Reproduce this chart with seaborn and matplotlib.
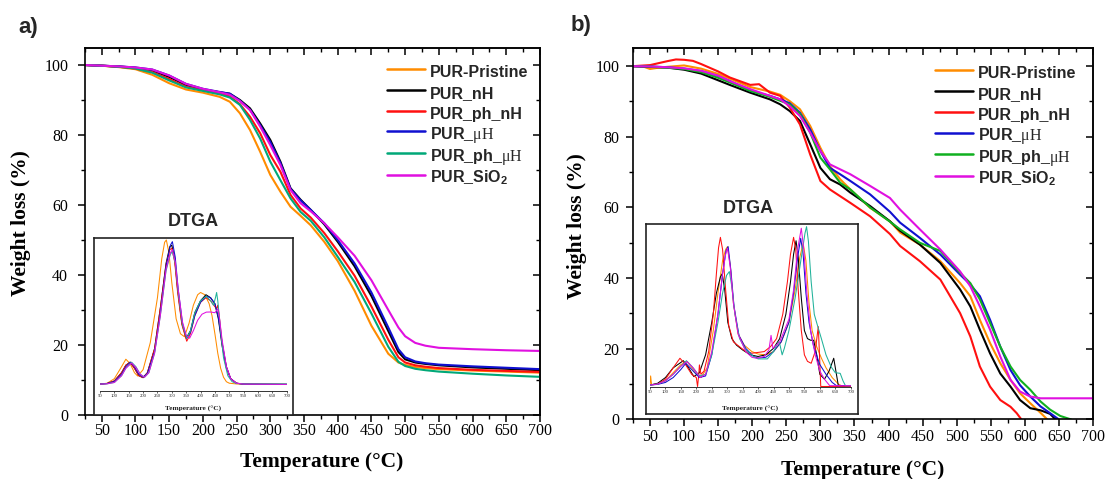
import numpy as np
import matplotlib
matplotlib.use("Agg")
import matplotlib.pyplot as plt
import seaborn as sns
from matplotlib.ticker import MultipleLocator

# ---------------- DATA ----------------
series_names = ["PUR-Pristine", "PUR_nH", "PUR_ph_nH", "PUR_\u03bcH", "PUR_ph_\u03bcH", "PUR_SiO2"]
legend_labels = ["PUR-Pristine", "PUR_nH", "PUR_ph_nH", r"PUR_$\mathrm{\mu H}$",
                 r"PUR_ph_$\mathrm{\mu H}$", r"PUR_SiO$_\mathbf{2}$"]
colors_a = ["#FF8C00", "#000000", "#FF1010", "#1010D0", "#00A878", "#E010E0"]
colors_b = ["#FF8C00", "#000000", "#FF1010", "#1010D0", "#10B020", "#E010E0"]
colors_inset = ["#FF8C00", "#000000", "#FF1010", "#1010D0", "#20B29A", "#E010E0"]

x_ticks = [50, 100, 150, 200, 250, 300, 350, 400, 450, 500, 550, 600, 650, 700]
y_ticks = [0, 20, 40, 60, 80, 100]

# Panel a) TGA
temp_a = [25, 50, 75, 100, 125, 150, 175, 200, 225, 240, 255, 270, 285, 300, 315, 330, 345, 360,
          380, 400, 425, 450, 475, 490, 500, 515, 530, 550, 600, 650, 700]
a_pristine = [100, 99.8, 99.4, 98.8, 97.2, 94.8, 93.0, 92.1, 90.9, 89.5, 86.2, 81.4, 75.2, 68.6, 63.8,
              59.5, 56.9, 54.2, 49.5, 44.0, 35.5, 25.5, 17.5, 15.0, 14.3, 13.7, 13.4, 13.1, 12.7, 12.4, 12.1]
a_nH = [100, 99.8, 99.6, 99.2, 98.4, 96.6, 94.3, 93.0, 92.2, 91.8, 90.0, 87.6, 83.3, 78.6, 72.4,
        64.8, 61.5, 58.6, 54.5, 49.5, 42.5, 34.0, 24.0, 18.0, 15.9, 15.0, 14.6, 14.2, 13.6, 13.2, 12.8]
a_ph_nH = [100, 99.8, 99.5, 99.0, 98.0, 96.0, 93.8, 92.8, 92.0, 91.0, 88.8, 85.2, 80.5, 74.3, 69.5,
           62.9, 59.0, 56.4, 52.0, 46.8, 39.8, 31.0, 21.5, 16.5, 15.0, 14.2, 13.8, 13.4, 12.9, 12.6, 12.3]
a_uH = [100, 99.8, 99.6, 99.3, 98.7, 97.0, 94.6, 93.2, 92.3, 91.8, 89.8, 87.2, 82.8, 78.0, 72.0,
        64.6, 61.3, 58.6, 54.8, 50.0, 43.3, 35.0, 25.0, 18.8, 16.5, 15.3, 14.8, 14.4, 13.9, 13.5, 13.1]
a_ph_uH = [100, 99.8, 99.5, 99.0, 97.8, 95.6, 93.6, 92.6, 91.6, 90.7, 88.6, 84.3, 79.0, 72.4, 67.1,
           61.9, 58.0, 55.5, 50.8, 45.2, 38.0, 29.0, 19.5, 15.2, 14.0, 13.2, 12.8, 12.4, 11.8, 11.3, 10.9]
a_SiO2 = [100, 99.8, 99.6, 99.3, 98.7, 97.0, 94.6, 93.2, 92.2, 91.5, 89.7, 87.1, 82.4, 77.1, 71.4,
          64.3, 60.5, 58.2, 54.8, 50.8, 45.5, 38.5, 30.0, 25.0, 22.5, 20.6, 19.8, 19.2, 18.8, 18.5, 18.3]

# Panel b) TGA
b_pristine_T = [25, 40, 50, 60, 75, 100, 125, 150, 167, 197, 226, 241, 255, 270, 285, 300, 314, 329, 344,
                373, 402, 417, 446, 476, 505, 520, 534, 549, 564, 579, 593, 608, 623, 633]
b_pristine = [100, 99.9, 99.2, 99.5, 99.8, 100.2, 99.3, 97.8, 96.5, 94.1, 92.8, 91.9, 90.1, 87.8, 83.1,
              76.9, 71.7, 68.0, 65.1, 59.9, 56.1, 52.9, 49.5, 44.8, 38.6, 34.9, 28.2, 21.6, 15.9, 11.2,
              7.4, 4.6, 1.9, 0]
b_nH_T = [25, 50, 75, 100, 125, 150, 167, 197, 226, 241, 255, 270, 285, 300, 314, 329, 344,
          373, 402, 417, 446, 476, 505, 520, 534, 549, 564, 579, 593, 608, 623, 637, 645]
b_nH = [100, 99.8, 99.6, 99.0, 97.9, 96.0, 94.7, 92.5, 90.6, 89.2, 87.3, 84.5, 77.9, 71.2, 68.0, 66.5,
        64.2, 60.4, 56.1, 53.4, 49.5, 44.3, 36.8, 32.0, 25.4, 18.7, 13.0, 9.3, 5.5, 3.2, 2.6, 1.6, 0]
b_ph_nH_T = [25, 50, 75, 88, 100, 113, 125, 150, 167, 197, 210, 226, 241, 255, 270, 285, 300, 314, 329,
             344, 373, 402, 417, 446, 476, 505, 520, 534, 549, 564, 579, 588, 595]
b_ph_nH = [100, 100.3, 101.4, 101.9, 101.8, 101.5, 100.6, 98.5, 96.8, 94.7, 94.9, 92.5, 91.6, 88.3, 83.5,
           75.0, 67.5, 65.1, 63.2, 61.3, 57.5, 52.5, 49.1, 44.8, 39.6, 30.1, 23.5, 15.0, 9.3, 5.5, 3.6,
           1.8, 0]
b_uH_T = [25, 50, 75, 100, 125, 150, 167, 197, 226, 241, 255, 270, 285, 300, 314, 329, 344,
          373, 402, 417, 446, 476, 505, 520, 534, 549, 564, 579, 593, 608, 623, 637, 650]
b_uH = [100, 99.9, 99.7, 99.3, 98.6, 97.2, 95.8, 93.0, 91.6, 90.6, 89.5, 86.8, 82.1, 76.0, 71.2, 69.4,
        67.5, 63.7, 58.8, 55.7, 51.4, 46.7, 41.0, 38.2, 34.9, 28.2, 20.6, 14.0, 9.7, 6.5, 3.7, 1.8, 0]
b_ph_uH_T = [25, 50, 75, 100, 125, 150, 167, 197, 226, 241, 255, 270, 285, 300, 314, 329, 344,
             373, 402, 417, 446, 476, 505, 520, 534, 549, 564, 579, 593, 608, 623, 637, 652, 668]
b_ph_uH = [100, 99.9, 99.6, 99.2, 98.3, 96.7, 95.4, 93.0, 91.3, 90.2, 89.2, 86.5, 81.2, 74.1, 70.8, 67.0,
           65.1, 60.0, 56.0, 53.8, 50.0, 47.7, 41.5, 38.6, 34.0, 27.3, 20.6, 15.0, 11.2, 8.4, 5.1, 2.8,
           1.0, 0]
b_SiO2_T = [25, 50, 75, 100, 125, 150, 167, 197, 226, 241, 255, 270, 285, 300, 314, 329, 344,
            373, 402, 417, 446, 476, 505, 520, 534, 549, 564, 579, 593, 608, 623, 650, 700]
b_SiO2 = [100, 99.9, 99.7, 99.4, 98.7, 97.3, 95.8, 93.5, 91.6, 90.6, 88.7, 85.9, 81.2, 76.0, 72.2, 70.8,
          69.4, 66.1, 62.7, 59.4, 53.8, 48.1, 41.9, 37.7, 32.0, 25.4, 17.8, 11.2, 7.9, 6.5, 6.0, 6.0, 6.0]

# Inset a) DTGA (arbitrary units)
ia_pristine_T = [50, 75, 100, 125, 140, 155, 170, 181, 200, 225, 250, 265, 275, 281, 290, 300, 315, 330,
                 344, 360, 375, 390, 400, 415, 430, 440, 450, 460, 470, 480, 490, 500, 525, 550, 600, 700]
ia_pristine = [4.4, 5, 8, 16, 21, 18, 12, 9.8, 14, 32, 62, 88, 99, 100.5, 92, 72, 48, 38, 36, 45, 57, 64,
               65.5, 64, 58, 50, 38, 25, 15, 9, 6, 5, 4.5, 4.4, 4.3, 4.3]
ia_nH_T = [50, 75, 100, 125, 140, 155, 170, 185, 200, 215, 240, 260, 280, 293, 300, 310, 320, 335, 350,
           365, 380, 400, 419, 435, 450, 462, 475, 490, 505, 525, 550, 700]
ia_nH = [4.4, 4.8, 6.5, 12, 17, 19, 15, 10, 8.7, 12, 28, 55, 85, 96, 97, 88, 68, 45, 35, 40, 52, 60, 64,
         62, 58, 48, 30, 15, 8, 5, 4.4, 4.2]
ia_ph_nH_T = [50, 75, 100, 125, 140, 155, 170, 185, 200, 215, 240, 260, 280, 293, 300, 310, 320, 335,
              352, 365, 380, 400, 419, 435, 450, 456, 460, 465, 475, 490, 505, 525, 550, 700]
ia_ph_nH = [4.4, 4.8, 6.5, 12, 17, 19, 15, 10, 8.7, 12, 28, 55, 84, 94, 95, 86, 66, 44, 33, 38, 50, 59,
            62, 60, 56, 55, 57, 50, 32, 16, 8, 5, 4.4, 4.2]
ia_uH_T = [50, 75, 100, 125, 140, 155, 170, 185, 200, 215, 240, 260, 280, 295, 302, 312, 322, 337, 352,
           365, 380, 400, 420, 435, 450, 462, 475, 490, 505, 525, 550, 700]
ia_uH = [4.4, 4.8, 6.2, 11, 16, 19, 16, 11, 9, 11.5, 26, 52, 83, 97, 99.4, 89, 68, 45, 35, 39, 50, 59,
         63, 62, 58, 49, 32, 16, 8, 5, 4.4, 4.2]
ia_ph_uH_T = [50, 75, 100, 125, 140, 160, 175, 190, 205, 220, 240, 260, 280, 295, 302, 312, 322, 337,
              352, 365, 380, 400, 420, 435, 445, 452, 456, 460, 470, 480, 495, 510, 525, 550, 700]
ia_ph_uH = [4.4, 4.6, 5.5, 10, 15, 19, 16, 11, 9, 12, 25, 50, 80, 91, 92.8, 85, 66, 44, 35, 40, 52, 60,
            63, 60, 57, 62, 65.5, 60, 40, 22, 10, 6, 4.8, 4.5, 4.5]
ia_SiO2_T = [50, 75, 100, 125, 140, 160, 175, 190, 205, 220, 240, 260, 280, 295, 302, 312, 322, 337, 350,
             362, 375, 390, 405, 420, 435, 450, 460, 465, 475, 490, 505, 525, 550, 700]
ia_SiO2 = [4.4, 4.6, 5.5, 10, 15, 18.5, 15.5, 11, 9, 12, 25, 50, 81, 92, 94, 86, 68, 46, 37, 35, 40, 47,
           51, 52.4, 52.5, 52, 54.6, 50, 34, 16, 8, 5, 4.4, 4.2]

# Inset b) DTGA (arbitrary units)
ib_pristine_T = [50, 52, 55, 75, 100, 125, 150, 170, 190, 215, 235, 255, 270, 285, 295, 301, 310, 320, 335,
                 355, 380, 400, 425, 450, 475, 500, 520, 535, 546, 555, 565, 575, 590, 605, 620, 640, 660, 670, 700]
ib_pristine = [1.4, 7, 1.6, 2, 4, 9, 14, 15.8, 11, 6, 12, 35, 58, 78, 85, 86.7, 75, 52, 33, 26, 22, 20.5,
               20, 22, 28, 40, 60, 80, 88.7, 78, 52, 35, 25, 18, 12, 6, 2, 1, 1]
ib_nH_T = [50, 75, 100, 125, 158, 175, 192, 210, 230, 250, 265, 278, 284, 292, 302, 315, 330, 350, 375, 400,
           425, 450, 470, 490, 505, 515, 523, 530, 540, 550, 560, 570, 580, 590, 600, 615, 630, 645, 652, 660, 700]
ib_nH = [1.4, 2.5, 6, 12, 16.4, 12, 6.6, 9, 20, 40, 58, 68, 70, 60, 40, 30, 26, 23, 20, 19, 20, 24, 30, 45,
         65, 82, 90.3, 80, 55, 35, 30, 29, 29, 20, 8, 5, 10, 17.9, 10, 1, 1]
ib_ph_nH_T = [50, 75, 100, 125, 147, 165, 185, 200, 204, 208, 210, 215, 225, 240, 255, 265, 272, 278, 285,
              295, 305, 320, 340, 360, 380, 400, 420, 440, 460, 480, 495, 505, 515, 522, 530, 540, 550, 560,
              572, 585, 595, 600, 603, 620, 700]
ib_ph_nH = [1.4, 2, 5, 12, 17.9, 14, 8, 6, 0.5, 8, 13.8, 8, 10, 22, 45, 70, 86, 92.4, 85, 60, 38, 28, 25,
            22, 21, 21.5, 22, 25, 30, 45, 65, 82, 92.4, 85, 60, 35, 20, 16, 14.8, 22, 37.4, 15, 0.5, 0.5, 0.5]
ib_uH_T = [50, 75, 100, 125, 150, 166, 185, 210, 230, 250, 270, 285, 296, 303, 312, 322, 338, 360, 385, 400,
           425, 450, 475, 500, 515, 528, 538, 546, 555, 565, 580, 600, 620, 640, 654, 700]
ib_uH = [1.4, 1.8, 3, 6, 11, 14.8, 11, 6, 7, 20, 45, 70, 84, 86.7, 72, 50, 32, 24, 19, 18, 18.5, 22, 28,
         40, 58, 80, 91.8, 82, 58, 40, 25, 14, 8, 3, 1, 1]
ib_ph_uH_T = [50, 75, 100, 125, 150, 168, 185, 210, 230, 250, 270, 285, 298, 307, 315, 325, 340, 360, 385,
              400, 430, 450, 466, 470, 478, 485, 500, 520, 540, 552, 557, 563, 572, 582, 591, 605, 620, 637,
              650, 666, 675, 683, 700]
ib_ph_uH = [1.4, 2, 4, 8, 13, 16.4, 13, 7, 8, 20, 40, 58, 69, 71.3, 62, 45, 30, 23, 19, 17.5, 17.5, 22, 28,
            27, 20, 24, 35, 55, 80, 95, 99, 90, 65, 45, 39, 30, 20, 12.5, 9, 8.6, 4, 1, 1]
ib_SiO2_T = [50, 75, 100, 125, 150, 170, 190, 212, 230, 250, 270, 285, 295, 301, 310, 320, 335, 360, 380,
             395, 420, 435, 442, 448, 470, 500, 515, 528, 540, 548, 558, 570, 585, 600, 615, 632, 700]
ib_SiO2 = [1.4, 2, 4, 8, 13, 15.8, 12, 6, 8, 22, 45, 70, 82, 85.6, 74, 52, 33, 22, 18.5, 17.9, 19, 23, 32,
           24, 28, 42, 60, 85, 98, 85, 58, 35, 20, 10, 5, 1, 1]

# ---------------- STYLE ----------------
sns.set_theme(style="white")
plt.rcParams["font.family"] = ["Liberation Serif", "DejaVu Serif"]
plt.rcParams["mathtext.fontset"] = "custom"
plt.rcParams["mathtext.rm"] = "Liberation Serif"
plt.rcParams["mathtext.it"] = "Liberation Serif:italic"
plt.rcParams["mathtext.bf"] = "Liberation Sans:bold"

SANS = ["Liberation Sans", "DejaVu Sans"]

fig = plt.figure(figsize=(11.1, 4.79), dpi=100)
fig.patch.set_facecolor("white")

ax_a = fig.add_axes([0.07644, 0.13361, 0.41005, 0.76722])
ax_b = fig.add_axes([0.57027, 0.12422, 0.41441, 0.77453])


def style_main(ax, ypad, xpad):
    ax.set_facecolor("white")
    ax.set_xlim(25, 700)
    ax.set_ylim(0, 105)
    ax.set_xticks(x_ticks)
    ax.set_yticks(y_ticks)
    ax.xaxis.set_minor_locator(MultipleLocator(25))
    ax.yaxis.set_minor_locator(MultipleLocator(10))
    ax.tick_params(which="major", direction="out", length=5, width=1.1, colors="black",
                   labelsize=11.5, bottom=True, left=True, top=False, right=False)
    ax.tick_params(which="minor", direction="out", length=3, width=1.0, colors="black",
                   bottom=True, left=True, top=False, right=False)
    ax.tick_params(axis="y", which="major", pad=ypad)
    ax.tick_params(axis="x", which="major", pad=xpad)
    for s in ax.spines.values():
        s.set_color("black")
        s.set_linewidth(1.2)
    top = ax.secondary_xaxis("top")
    top.set_xticks(x_ticks)
    top.xaxis.set_minor_locator(MultipleLocator(25))
    top.tick_params(which="major", direction="in", length=5, width=1.1, colors="black", labeltop=False)
    top.tick_params(which="minor", direction="in", length=3, width=1.0, colors="black")
    top.spines["top"].set_linewidth(1.2)
    right = ax.secondary_yaxis("right")
    right.set_yticks(y_ticks)
    right.yaxis.set_minor_locator(MultipleLocator(10))
    right.tick_params(which="major", direction="in", length=5, width=1.1, colors="black", labelright=False)
    right.tick_params(which="minor", direction="in", length=3, width=1.0, colors="black")
    right.spines["right"].set_linewidth(1.2)
    ax.set_xlabel("Temperature (\u00b0C)", fontsize=15.5, fontweight="bold", color="black")
    ax.set_ylabel("Weight loss (%)", fontsize=15.5, fontweight="bold", color="black")
    ax.xaxis.label.set_va("center")
    ax.yaxis.label.set_va("center")


# Panel a main curves
a_series = [a_pristine, a_nH, a_ph_nH, a_uH, a_ph_uH, a_SiO2]
for vals, c, lab in zip(a_series, colors_a, legend_labels):
    sns.lineplot(x=temp_a, y=vals, ax=ax_a, color=c, linewidth=1.5, label=lab, errorbar=None)

b_series = [(b_pristine_T, b_pristine), (b_nH_T, b_nH), (b_ph_nH_T, b_ph_nH),
            (b_uH_T, b_uH), (b_ph_uH_T, b_ph_uH), (b_SiO2_T, b_SiO2)]
for (tt, vals), c, lab in zip(b_series, colors_b, legend_labels):
    sns.lineplot(x=tt, y=vals, ax=ax_b, color=c, linewidth=1.5, label=lab, errorbar=None)

style_main(ax_a, ypad=7.0, xpad=1.0)
style_main(ax_b, ypad=4.8, xpad=1.5)
ax_a.xaxis.set_label_coords(0.520, -0.127)
ax_a.yaxis.set_label_coords(-0.140, 0.522)
ax_b.xaxis.set_label_coords(0.50, -0.136)
ax_b.yaxis.set_label_coords(-0.122, 0.522)

leg_prop = {"family": SANS, "weight": "bold", "size": 11.5}
for ax, anchor in ((ax_a, (0.664, 0.962)), (ax_b, (0.6565, 0.962))):
    ax.legend(loc="upper left", bbox_to_anchor=anchor, frameon=False, prop=leg_prop,
              handlelength=2.4, handletextpad=0.3, labelspacing=0.0, handleheight=1.62,
              borderpad=0, borderaxespad=0)
    for line in ax.get_legend().get_lines():
        line.set_linewidth(1.8)

# Panel letters
fig.text(28 / 1110, 1 - 27 / 479, "a)", ha="center", va="center", fontsize=16,
         fontweight="bold", family=SANS)
fig.text(581 / 1110, 1 - 25 / 479, "b)", ha="center", va="center", fontsize=16,
         fontweight="bold", family=SANS)


# ---------------- INSETS ----------------
def make_inset(box_rect, inner_rect, ylim_top, series, title_xy, label_xy):
    box = fig.add_axes(box_rect)
    box.set_facecolor("white")
    box.set_xticks([])
    box.set_yticks([])
    for s in box.spines.values():
        s.set_color("#222222")
        s.set_linewidth(1.2)
    inner = fig.add_axes(inner_rect)
    inner.set_facecolor("none")
    for (tt, vals), c in zip(series, colors_inset):
        sns.lineplot(x=tt, y=vals, ax=inner, color=c, linewidth=0.75, errorbar=None, legend=False)
    inner.set_xlim(50, 700)
    inner.set_ylim(0, ylim_top)
    inner.set_xticks(x_ticks)
    inner.set_yticks([])
    inner.set_xlabel("")
    inner.set_ylabel("")
    for k in ("top", "right", "left"):
        inner.spines[k].set_visible(False)
    inner.spines["bottom"].set_color("#333333")
    inner.spines["bottom"].set_linewidth(0.7)
    inner.tick_params(axis="x", which="major", direction="out", length=1.5, width=0.5,
                      labelsize=3.4, pad=0.8, colors="#222222", bottom=True)
    fig.text(title_xy[0] / 1110, 1 - title_xy[1] / 479, "DTGA", ha="center", va="center",
             fontsize=13, fontweight="bold", family=SANS)
    fig.text(label_xy[0] / 1110, 1 - label_xy[1] / 479, "Temperature (\u00b0C)", ha="center",
             va="center", fontsize=5.3, fontweight="bold", color="#222222")


ia_series = [(ia_pristine_T, ia_pristine), (ia_nH_T, ia_nH), (ia_ph_nH_T, ia_ph_nH),
             (ia_uH_T, ia_uH), (ia_ph_uH_T, ia_ph_uH), (ia_SiO2_T, ia_SiO2)]
ib_series = [(ib_pristine_T, ib_pristine), (ib_nH_T, ib_nH), (ib_ph_nH_T, ib_ph_nH),
             (ib_uH_T, ib_uH), (ib_ph_uH_T, ib_ph_uH), (ib_SiO2_T, ib_SiO2)]

make_inset([0.08468, 0.13361, 0.17955, 0.37015],
           [0.09009, 0.18434, 0.16820, 0.31775], 101.5, ia_series, (193, 221.7), (193, 409))
make_inset([0.58198, 0.1357, 0.19126, 0.39603],
           [0.58559, 0.19144, 0.18081, 0.33779], 99.7, ib_series, (748, 208.3), (750, 409))

fig.savefig("out.png", dpi=100, facecolor="white")
